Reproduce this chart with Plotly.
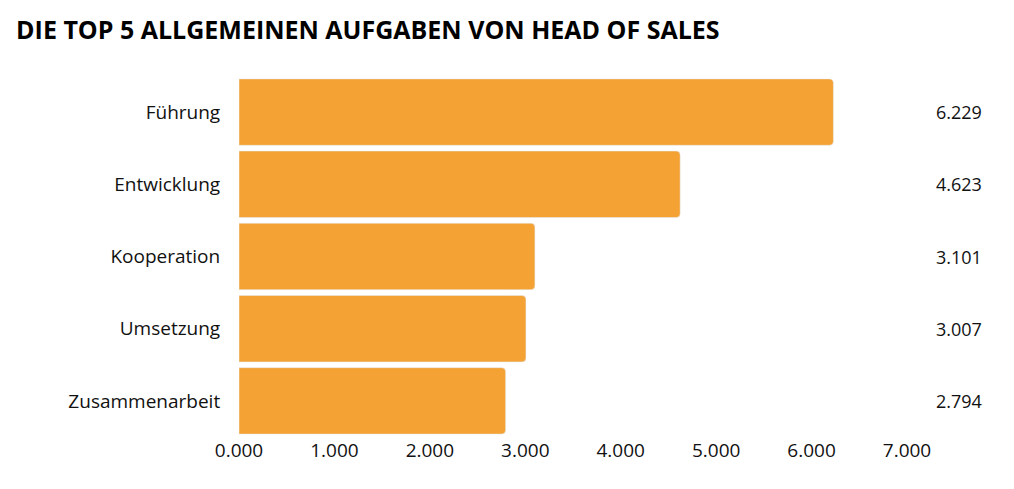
import plotly.graph_objects as go

categories = ["Führung", "Entwicklung", "Kooperation", "Umsetzung", "Zusammenarbeit"]
values = [6229, 4623, 3101, 3007, 2794]
value_labels = ["6.229", "4.623", "3.101", "3.007", "2.794"]
tick_vals = [0, 1000, 2000, 3000, 4000, 5000, 6000, 7000]
tick_text = ["0.000", "1.000", "2.000", "3.000", "4.000", "5.000", "6.000", "7.000"]

fig = go.Figure(go.Bar(
    x=values, y=categories, orientation="h",
    marker=dict(color="#F4A233", cornerradius=4),
    width=0.92, hoverinfo="skip"
))

for cat, lab in zip(categories, value_labels):
    fig.add_annotation(x=1.115, xref="paper", y=cat, yref="y", text=lab,
                       showarrow=False, xanchor="right",
                       font=dict(size=18, color="#111111"))

fig.update_layout(
    width=1014, height=489,
    plot_bgcolor="white", paper_bgcolor="white",
    font=dict(family="Open Sans", color="#111111"),
    title=dict(text="<b>DIE TOP 5 ALLGEMEINEN AUFGABEN VON HEAD OF SALES</b>",
               x=0.008, xanchor="left", y=0.955, yanchor="middle",
               font=dict(size=25, family="Open Sans", color="#000000")),
    margin=dict(l=231, r=115, t=68, b=60),
    xaxis=dict(range=[0, 7000], tickvals=tick_vals, ticktext=tick_text,
               showgrid=False, zeroline=False, showline=False,
               tickfont=dict(size=19), ticks=""),
    yaxis=dict(autorange="reversed", showgrid=False, showline=False,
               tickfont=dict(size=19), ticks="outside", ticklen=14,
               tickcolor="white"),
    showlegend=False,
)

fig.write_html("out.html")
